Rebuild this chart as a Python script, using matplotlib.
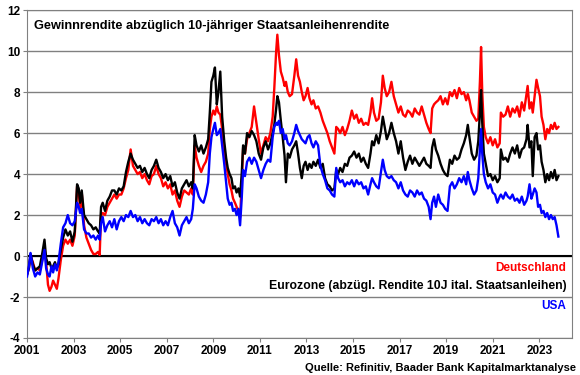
import numpy as np
import matplotlib.pyplot as plt

plt.rcParams['font.family'] = ['Liberation Sans', 'DejaVu Sans']

# Data (decimal years, % points)
years = [
    2001.00, 2001.08, 2001.15, 2001.25, 2001.35, 2001.45, 2001.55, 2001.65, 2001.75, 2001.82,
    2001.90, 2001.97, 2002.05, 2002.12, 2002.20, 2002.28, 2002.35, 2002.45, 2002.55, 2002.65,
    2002.75, 2002.85, 2002.95, 2003.05, 2003.15, 2003.22, 2003.28, 2003.35, 2003.45, 2003.55,
    2003.65, 2003.75, 2003.85, 2003.95, 2004.05, 2004.12, 2004.18, 2004.25, 2004.35, 2004.45,
    2004.55, 2004.65, 2004.75, 2004.85, 2004.95, 2005.05, 2005.15, 2005.25, 2005.35, 2005.45,
    2005.55, 2005.65, 2005.75, 2005.85, 2005.95, 2006.05, 2006.15, 2006.25, 2006.35, 2006.45,
    2006.55, 2006.65, 2006.75, 2006.85, 2006.95, 2007.05, 2007.15, 2007.25, 2007.35, 2007.45,
    2007.55, 2007.65, 2007.75, 2007.85, 2007.95, 2008.05, 2008.12, 2008.20, 2008.28, 2008.38,
    2008.48, 2008.58, 2008.68, 2008.78, 2008.85, 2008.92, 2009.00, 2009.07, 2009.15, 2009.22,
    2009.30, 2009.38, 2009.47, 2009.55, 2009.62, 2009.70, 2009.78, 2009.85, 2009.93, 2010.00,
    2010.08, 2010.15, 2010.22, 2010.28, 2010.36, 2010.45, 2010.55, 2010.65, 2010.75, 2010.85,
    2010.95, 2011.05, 2011.15, 2011.25, 2011.35, 2011.45, 2011.55, 2011.62, 2011.70, 2011.75,
    2011.82, 2011.90, 2011.98, 2012.06, 2012.12, 2012.20, 2012.28, 2012.38, 2012.48, 2012.56,
    2012.64, 2012.72, 2012.80, 2012.88, 2012.96, 2013.05, 2013.13, 2013.22, 2013.30, 2013.40,
    2013.50, 2013.60, 2013.70, 2013.80, 2013.90, 2014.00, 2014.10, 2014.20, 2014.28, 2014.36,
    2014.45, 2014.55, 2014.65, 2014.75, 2014.85, 2014.95, 2015.05, 2015.15, 2015.25, 2015.35,
    2015.45, 2015.55, 2015.65, 2015.75, 2015.82, 2015.90, 2016.00, 2016.10, 2016.20, 2016.28,
    2016.36, 2016.45, 2016.55, 2016.65, 2016.75, 2016.85, 2016.95, 2017.05, 2017.15, 2017.25,
    2017.35, 2017.45, 2017.55, 2017.65, 2017.75, 2017.85, 2017.95, 2018.05, 2018.15, 2018.25,
    2018.33, 2018.40, 2018.48, 2018.56, 2018.66, 2018.76, 2018.86, 2018.96, 2019.06, 2019.16,
    2019.26, 2019.36, 2019.46, 2019.56, 2019.66, 2019.76, 2019.86, 2019.93, 2020.00, 2020.10,
    2020.20, 2020.30, 2020.38, 2020.45, 2020.50, 2020.55, 2020.62, 2020.70, 2020.80, 2020.90,
    2021.00, 2021.10, 2021.20, 2021.30, 2021.35, 2021.45, 2021.55, 2021.65, 2021.75, 2021.85,
    2021.95, 2022.05, 2022.15, 2022.25, 2022.35, 2022.45, 2022.50, 2022.58, 2022.66, 2022.72,
    2022.80, 2022.88, 2022.95, 2023.03, 2023.10, 2023.18, 2023.26, 2023.34, 2023.42, 2023.50,
    2023.58, 2023.66, 2023.74, 2023.82,
]

deutschland = [
    -0.9, -0.6, 0.0, -0.3, -0.7, -0.6, -0.7, -0.2, 0.4, -0.3,
    -1.4, -1.7, -1.5, -1.2, -1.4, -1.6, -1.1, -0.2, 0.5, 0.8,
    0.6, 0.8, 0.5, 1.0, 3.4, 3.1, 2.3, 3.1, 1.5, 0.9,
    0.6, 0.3, 0.1, 0.1, 0.2, 0.05, 2.0, 2.1, 2.0, 2.4,
    2.6, 2.8, 3.0, 2.8, 3.0, 3.0, 3.3, 3.8, 4.2, 5.2,
    4.4, 4.2, 4.0, 4.1, 3.8, 4.0, 3.7, 3.5, 3.9, 4.0,
    4.4, 4.0, 3.8, 3.4, 3.6, 3.3, 3.5, 3.0, 3.2, 2.7,
    2.4, 2.9, 3.2, 3.1, 3.0, 3.3, 3.0, 5.4, 4.8, 4.4,
    4.1, 4.4, 4.6, 5.0, 6.2, 6.8, 7.1, 6.9, 7.3, 7.0,
    6.9, 6.2, 5.0, 4.5, 4.0, 3.5, 3.2, 2.8, 2.6, 2.4,
    2.2, 1.9, 3.5, 5.3, 5.0, 5.7, 6.0, 6.3, 7.3, 6.5,
    5.7, 5.0, 5.4, 5.8, 5.6, 6.0, 6.8, 8.2, 10.0, 10.8,
    9.8, 9.0, 8.7, 8.3, 8.5, 8.0, 7.8, 7.9, 8.8, 9.6,
    8.8, 8.5, 8.0, 7.6, 7.8, 8.2, 7.7, 7.4, 7.6, 7.2,
    7.3, 7.0, 6.6, 6.3, 6.0, 5.6, 5.3, 5.0, 6.3, 6.2,
    6.0, 6.3, 5.9, 6.2, 6.6, 7.1, 6.7, 6.9, 6.5, 6.7,
    6.4, 6.5, 6.4, 7.0, 7.7, 7.0, 6.6, 6.7, 7.5, 8.8,
    8.2, 7.8, 8.0, 8.5, 7.8, 7.4, 7.0, 7.3, 6.9, 6.8,
    7.1, 7.0, 6.8, 7.2, 7.0, 6.9, 7.3, 6.9, 6.5, 6.2,
    6.0, 7.2, 7.4, 7.5, 7.6, 7.8, 7.4, 7.7, 7.4, 8.0,
    7.8, 8.1, 7.7, 8.2, 7.9, 8.0, 7.6, 7.9, 7.6, 7.0,
    6.8, 6.6, 6.7, 8.5, 10.2, 8.0, 6.3, 5.8, 5.5, 5.8,
    5.4, 5.7, 5.3, 5.5, 7.0, 6.8, 6.9, 7.3, 6.8, 7.2,
    7.0, 7.3, 6.8, 7.5, 7.1, 7.9, 8.3, 7.2, 7.5, 7.0,
    7.8, 8.6, 8.2, 7.8, 6.8, 6.4, 5.7, 6.2, 6.0, 6.4,
    6.2, 6.5, 6.2, 6.3,
]

eurozone = [
    -0.9, -0.6, 0.1, -0.4, -0.7, -0.6, -0.5, 0.1, 0.8, -0.1,
    -0.4, -0.3, -0.6, -0.5, -0.3, -0.6, -0.4, 0.3, 0.9, 1.3,
    1.0, 1.2, 0.7, 1.2, 3.5, 3.3, 2.6, 3.2, 2.0, 1.8,
    1.6, 1.5, 1.3, 1.4, 1.2, 1.1, 2.4, 2.6, 2.2, 2.7,
    2.9, 3.2, 3.2, 3.0, 3.3, 3.2, 3.4, 4.1, 4.6, 5.0,
    4.7, 4.5, 4.3, 4.4, 4.1, 4.3, 4.0, 3.8, 4.2, 4.4,
    4.7, 4.3, 4.1, 3.8, 4.0, 3.7, 3.9, 3.4, 3.6, 3.1,
    2.8, 3.3, 3.5, 3.7, 3.4, 3.6, 3.3, 5.9, 5.4, 5.1,
    5.4, 5.0, 5.3, 5.7, 7.0, 8.5, 8.8, 9.2, 7.4, 8.0,
    9.0, 6.8, 5.6, 4.8, 4.3, 4.0, 3.8, 3.3, 3.4, 3.1,
    3.3, 2.9, 4.0, 5.4, 5.0, 6.0, 5.8, 6.1, 5.9, 5.6,
    5.0, 4.7, 5.3, 5.6, 5.2, 5.5, 6.0, 6.4, 7.2, 7.8,
    7.5, 6.6, 5.8, 4.9, 3.6, 5.0, 4.8, 5.2, 5.4, 5.6,
    5.0, 4.3, 3.8, 4.4, 4.6, 4.2, 4.5, 4.3, 4.6, 4.4,
    4.7, 4.3, 4.5, 3.8, 3.5, 3.4, 3.2, 3.3, 4.2, 4.0,
    4.3, 4.1, 4.5, 4.4, 4.8, 4.9, 5.1, 4.8, 5.0, 4.6,
    4.8, 4.5, 4.3, 5.0, 5.6, 5.4, 5.9, 5.5, 6.1, 6.8,
    6.3, 5.7, 6.0, 6.5, 6.0, 5.6, 5.0, 5.6, 4.8, 4.2,
    4.6, 4.9, 4.5, 4.8, 4.6, 4.4, 4.6, 4.8, 4.5, 4.4,
    4.3, 5.3, 5.7, 5.2, 4.9, 4.5, 4.2, 4.0, 3.9, 4.7,
    4.5, 4.9, 4.7, 4.8, 5.2, 5.5, 5.9, 6.4, 5.8, 5.0,
    4.7, 4.9, 5.6, 7.0, 8.1, 6.5, 5.0, 4.5, 3.9, 4.0,
    3.7, 3.9, 3.6, 3.8, 5.2, 4.7, 4.8, 4.6, 5.0, 5.3,
    5.0, 5.4, 4.8, 5.2, 5.3, 5.7, 6.4, 5.3, 5.6, 3.9,
    5.8, 6.0, 5.2, 5.4, 4.6, 4.2, 3.6, 4.0, 3.7, 4.1,
    3.8, 4.2, 3.7, 3.9,
]

usa = [
    -1.0, -0.5, 0.15, -0.6, -1.0, -0.8, -0.9, -0.3, 0.3, -0.6,
    -0.9, -1.0, -0.5, -0.8, -0.4, -0.7, -0.3, 0.6, 1.4, 1.6,
    2.0, 1.6, 1.5, 1.7, 2.6, 2.4, 2.1, 2.3, 1.3, 1.1,
    1.1, 0.9, 1.0, 0.8, 1.0, 0.8, 1.6, 1.9, 1.2, 1.5,
    1.7, 1.4, 1.8, 1.3, 1.7, 1.9, 1.7, 2.0, 1.9, 2.2,
    1.9, 2.0, 1.7, 1.9, 1.6, 1.8, 1.6, 1.5, 1.8, 1.7,
    1.9, 1.6, 1.8, 1.5, 1.7, 1.5, 1.9, 2.2, 1.6, 1.4,
    1.0, 1.5, 1.7, 1.9, 1.6, 1.8, 2.3, 3.5, 3.3, 2.9,
    2.7, 2.6, 3.0, 3.6, 5.0, 5.8, 6.2, 6.5, 5.9, 6.0,
    6.2, 5.4, 4.5, 3.6, 2.8, 2.5, 2.6, 2.2, 2.3, 2.0,
    2.3, 1.5, 2.8, 4.2, 3.9, 4.6, 4.8, 4.5, 4.8, 4.6,
    4.2, 3.8, 4.2, 4.5, 4.7, 4.6, 5.8, 6.3, 6.5, 6.4,
    6.6, 6.0, 6.2, 5.7, 5.9, 5.5, 5.4, 5.6, 6.0, 6.4,
    6.1, 5.9, 5.7, 5.6, 5.5, 5.8, 5.9, 5.5, 5.3, 5.6,
    5.4, 4.4, 4.0, 3.7, 3.3, 3.2, 3.0, 2.9, 4.3, 3.8,
    3.6, 3.7, 3.4, 3.6, 3.5, 3.7, 3.4, 3.7, 3.5, 3.6,
    3.3, 3.4, 3.0, 3.5, 3.8, 3.6, 3.4, 3.3, 4.1, 4.7,
    4.2, 3.9, 3.8, 3.9, 3.7, 3.6, 3.3, 3.6, 3.2, 3.0,
    2.9, 3.2, 3.1, 2.9, 3.2, 3.0, 3.1, 2.8, 2.7, 2.4,
    1.8, 2.6, 2.9, 2.4, 3.0, 2.6, 2.5, 2.3, 2.2, 3.4,
    3.6, 3.3, 3.5, 3.8, 3.6, 3.9, 3.5, 4.1, 3.7, 3.3,
    3.0, 3.2, 3.8, 5.2, 6.2, 5.0, 4.0, 3.6, 3.3, 3.5,
    3.1, 3.0, 2.6, 2.9, 3.0, 2.8, 3.1, 2.9, 2.8, 3.0,
    2.7, 2.8, 2.6, 2.9, 2.5, 2.7, 2.9, 3.5, 2.8, 3.0,
    3.3, 3.1, 2.4, 2.5, 2.1, 2.2, 1.9, 2.1, 1.8, 2.0,
    1.8, 1.9, 1.5, 0.95,
]

year_ticks = list(range(2001, 2024, 2))

fig = plt.figure(figsize=(5.8, 3.75), dpi=100)
ax = fig.add_axes([0.0466, 0.0987, 0.9394, 0.8743])

ax.plot(years, deutschland, color='#ff0000', lw=1.7, zorder=3)
ax.plot(years, eurozone, color='black', lw=1.7, zorder=4)
ax.plot(years, usa, color='#0000ff', lw=1.7, zorder=5)

ax.set_xlim(2001, 2024.4)
ax.set_ylim(-4, 12)
ax.set_yticks(np.arange(-4, 13, 2))
ax.set_xticks(year_ticks)
ax.set_xticklabels([str(y) for y in year_ticks], fontsize=8.5, fontweight='bold')
ax.set_yticklabels([str(v) for v in range(-4, 13, 2)], fontsize=8.5, fontweight='bold')

ax.grid(axis='y', color='#808080', lw=1)
ax.set_axisbelow(True)
ax.axhline(0, color='black', lw=1.5, zorder=2)
for s in ax.spines.values():
    s.set_color('#808080')
ax.tick_params(axis='both', length=3, color='#808080', pad=2)

ax.text(0.012, 0.952, 'Gewinnrendite abzüglich 10-jähriger Staatsanleihenrendite',
        transform=ax.transAxes, fontsize=9.2, fontweight='bold', va='center')

ax.text(0.99, 0.213, 'Deutschland', transform=ax.transAxes, ha='right', va='center',
        color='#ff0000', fontsize=8.5, fontweight='bold')
ax.text(0.99, 0.159, 'Eurozone (abzügl. Rendite 10J ital. Staatsanleihen)', transform=ax.transAxes,
        ha='right', va='center', color='black', fontsize=8.8, fontweight='bold')
ax.text(0.99, 0.098, 'USA', transform=ax.transAxes, ha='right', va='center',
        color='#0000ff', fontsize=8.5, fontweight='bold')

fig.text(0.993, 0.018, 'Quelle: Refinitiv, Baader Bank Kapitalmarktanalyse',
         ha='right', va='center', fontsize=8, fontweight='bold')

fig.savefig('out.png', dpi=100)
